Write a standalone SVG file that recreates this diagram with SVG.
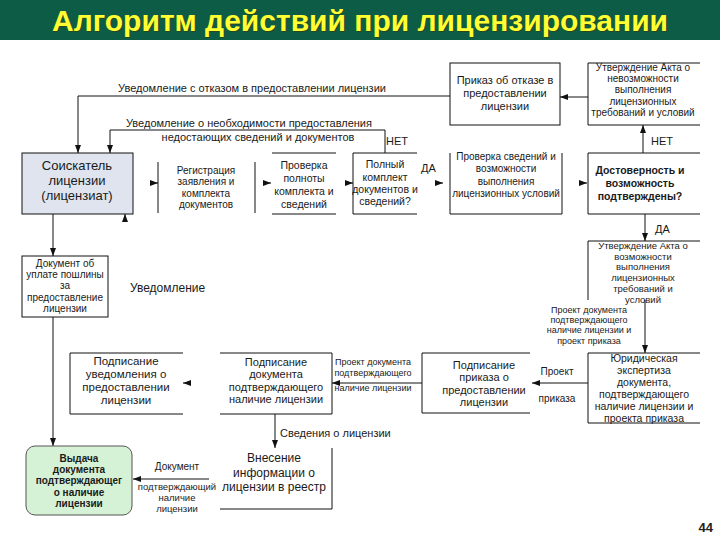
<svg xmlns="http://www.w3.org/2000/svg" width="720" height="540" viewBox="0 0 720 540">
<style>
.t{font-family:"Liberation Sans",Arial,sans-serif;fill:#1a1a1a;text-anchor:middle}
.l{font-family:"Liberation Sans",Arial,sans-serif;fill:#1a1a1a}
.b{fill:none;stroke:#111;stroke-width:1}
.c{fill:none;stroke:#111;stroke-width:1}
.s9{font-size:9px}.s95{font-size:9.5px}.s10{font-size:10px}.s105{font-size:10.5px}.s11{font-size:11px}.s115{font-size:11.5px}.s12{font-size:12px}.s13{font-size:13px}
.bold{font-weight:bold}
</style>
<defs>
<marker id="ah" viewBox="0 0 8 6" refX="8" refY="3" markerWidth="8" markerHeight="6" markerUnits="userSpaceOnUse" orient="auto">
<path d="M0,0 L8,3 L0,6 Z" fill="#111"/>
</marker>
</defs>
<rect x="0" y="0" width="720" height="40" fill="#0d5c46"/>
<text x="361" y="32" font-family="'Liberation Sans',Arial,sans-serif" font-size="30" font-weight="bold" fill="#3a3a00" text-anchor="middle" opacity="0.6">Алгоритм действий при лицензировании</text>
<text x="360" y="31" font-family="'Liberation Sans',Arial,sans-serif" font-size="30" font-weight="bold" fill="#ffff33" text-anchor="middle">Алгоритм действий при лицензировании</text>

<g id="connectors">
<path class="c" d="M450,96 H78 V153" marker-end="url(#ah)"/>
<path class="c" d="M385,153 V130 H110 V153" marker-end="url(#ah)"/>
<path class="c" d="M588,97 H560" marker-end="url(#ah)"/>
<path class="c" d="M643,153 V125" marker-end="url(#ah)"/>
<path class="c" d="M150,183 H158" marker-end="url(#ah)"/>
<path class="c" d="M263,183 H271" marker-end="url(#ah)"/>
<path class="c" d="M345,183 H353" marker-end="url(#ah)"/>
<path class="c" d="M435,183 H443" marker-end="url(#ah)"/>
<path class="c" d="M579,183 H587" marker-end="url(#ah)"/>
<path class="c" d="M53,214 V256" marker-end="url(#ah)"/>
<path class="c" d="M125,222 V214" marker-end="url(#ah)"/>
<path class="c" d="M53,317 V446" marker-end="url(#ah)"/>
<path class="c" d="M645,214 V241" marker-end="url(#ah)"/>
<path class="c" d="M645,300 V353" marker-end="url(#ah)"/>
<path class="c" d="M588,383 H532" marker-end="url(#ah)"/>
<path class="c" d="M422,383 H332" marker-end="url(#ah)"/>
<path class="c" d="M191,383 H183" marker-end="url(#ah)"/>
<path class="c" d="M275,414 V448" marker-end="url(#ah)"/>
<path class="c" d="M209,479 H133" marker-end="url(#ah)"/>
<text class="t s11" x="252" y="92">Уведомление с отказом в предоставлении лицензии</text>
<text class="t s11" x="249" y="127">Уведомление о необходимости предоставления</text>
<text class="t s11" x="258" y="141">недостающих сведений и документов</text>
<text class="l s11" x="386" y="145">НЕТ</text>
<text class="l s11" x="651" y="145">НЕТ</text>
<text class="l s11" x="421" y="172">ДА</text>
<text class="l s11" x="655" y="233">ДА</text>
<text class="l s12" x="130" y="292">Уведомление</text>
<text class="t s9" x="589" y="313">Проект документа</text>
<text class="t s9" x="589" y="323.2">подтверждающего</text>
<text class="t s9" x="589" y="333.4">наличие лицензии и</text>
<text class="t s9" x="589" y="343.6">проект приказа</text>
<text class="t s10" x="557" y="375">Проект</text>
<text class="t s10" x="557" y="402">приказа</text>
<text class="t s9" x="373" y="365">Проект документа</text>
<text class="t s9" x="373" y="376">подтверждающего</text>
<text class="t s9" x="373" y="391">наличие лицензии</text>
<text class="l s11" x="280" y="437">Сведения о лицензии</text>
<text class="t s10" x="177" y="470">Документ</text>
<text class="t s95" x="177" y="490">подтверждающий</text>
<text class="t s95" x="177" y="501">наличие</text>
<text class="t s95" x="177" y="512">лицензии</text>
</g>

<g id="n-prikaz-otkaz">
<rect class="b" x="450" y="63" width="110" height="62"/>
<text class="t s11" x="505" y="84">Приказ об отказе в</text>
<text class="t s11" x="505" y="97">предоставлении</text>
<text class="t s11" x="505" y="110">лицензии</text>
</g>
<g id="n-akt-nevozm">
<path class="b" d="M700,63 H588 V125 H700"/>
<text class="t s10" x="643" y="71">Утверждение Акта о</text>
<text class="t s10" x="643" y="82.2">невозможности</text>
<text class="t s10" x="643" y="93.4">выполнения</text>
<text class="t s10" x="643" y="104.6">лицензионных</text>
<text class="t s10" x="643" y="115.8">требований и условий</text>
</g>
<g id="n-soiskatel">
<rect x="22" y="153" width="111" height="61" fill="#dfe4ee" stroke="#111" stroke-width="1"/>
<text class="t s13" x="77" y="170">Соискатель</text>
<text class="t s13" x="77" y="185">лицензии</text>
<text class="t s13" x="77" y="200">(лицензиат)</text>
</g>
<g id="n-registr">
<path class="b" d="M158,162 V213 M255,162 V213"/>
<text class="t s10" x="206" y="174">Регистрация</text>
<text class="t s10" x="206" y="185.3">заявления и</text>
<text class="t s10" x="206" y="196.6">комплекта</text>
<text class="t s10" x="206" y="207.9">документов</text>
</g>
<g id="n-proverka-poln">
<path class="b" d="M272,153 H336 M272,214 H336"/>
<text class="t s105" x="304" y="169">Проверка</text>
<text class="t s105" x="304" y="182">полноты</text>
<text class="t s105" x="304" y="195">комплекта и</text>
<text class="t s105" x="304" y="208">сведений</text>
</g>
<g id="n-polny">
<path class="b" d="M417,153 H353 V214 H417"/>
<text class="t s105" x="385" y="168">Полный</text>
<text class="t s105" x="385" y="181">комплект</text>
<text class="t s105" x="385" y="193">документов и</text>
<text class="t s105" x="385" y="205">сведений?</text>
</g>
<g id="n-proverka-sved">
<path class="b" d="M450,153 V214 H562 V153"/>
<text class="t s10" x="506" y="160">Проверка сведений и</text>
<text class="t s10" x="506" y="172">возможности</text>
<text class="t s10" x="506" y="185">выполнения</text>
<text class="t s10" x="506" y="197">лицензионных условий</text>
</g>
<g id="n-dostovernost">
<path class="b" d="M700,153 H588 V214 H700"/>
<text class="t s105 bold" x="640" y="174">Достоверность и</text>
<text class="t s105 bold" x="640" y="187">возможность</text>
<text class="t s105 bold" x="640" y="200">подтверждены?</text>
</g>
<g id="n-akt-vozm">
<path class="b" d="M700,241 H588 V300"/>
<text class="t s95" x="643" y="249">Утверждение Акта о</text>
<text class="t s95" x="643" y="259.7">возможности</text>
<text class="t s95" x="643" y="270.4">выполнения</text>
<text class="t s95" x="643" y="281.1">лицензионных</text>
<text class="t s95" x="643" y="291.8">требований и</text>
<text class="t s95" x="643" y="302.5">условий</text>
</g>
<g id="n-ekspertiza">
<path class="b" d="M700,353 H588 V423 H700"/>
<text class="t s105" x="644" y="362">Юридическая</text>
<text class="t s105" x="644" y="374">экспертиза</text>
<text class="t s105" x="644" y="386">документа,</text>
<text class="t s105" x="644" y="398">подтверждающего</text>
<text class="t s105" x="644" y="410">наличие лицензии и</text>
<text class="t s105" x="644" y="422">проекта приказа</text>
</g>
<g id="n-podp-prikaza">
<path class="b" d="M530,353 H422 V413 H530"/>
<text class="t s11" x="484" y="369">Подписание</text>
<text class="t s11" x="484" y="381.3">приказа о</text>
<text class="t s11" x="484" y="393.6">предоставлении</text>
<text class="t s11" x="484" y="405.9">лицензии</text>
</g>
<g id="n-podp-doc">
<path class="b" d="M220,353 H332 V414 H220"/>
<text class="t s11" x="276" y="366">Подписание</text>
<text class="t s11" x="276" y="378.3">документа</text>
<text class="t s11" x="276" y="390.6">подтверждающего</text>
<text class="t s11" x="276" y="402.9">наличие лицензии</text>
</g>
<g id="n-podp-uved">
<path class="b" d="M183,353 H70 V414 H183"/>
<text class="t s115" x="126" y="365">Подписание</text>
<text class="t s115" x="126" y="378">уведомления о</text>
<text class="t s115" x="126" y="391">предоставлении</text>
<text class="t s115" x="126" y="404">лицензии</text>
</g>
<g id="n-poshlina">
<rect class="b" x="22" y="256" width="86" height="61"/>
<text class="t s10" x="65" y="267">Документ об</text>
<text class="t s10" x="65" y="278.2">уплате пошлины</text>
<text class="t s10" x="65" y="289.4">за</text>
<text class="t s10" x="65" y="300.6">предоставление</text>
<text class="t s10" x="65" y="311.8">лицензии</text>
</g>
<g id="n-vydacha">
<rect x="26" y="446" width="106" height="69" rx="9" ry="9" fill="#d6f2d6" stroke="#555" stroke-width="1"/>
<text class="t s10 bold" x="79" y="462">Выдача</text>
<text class="t s10 bold" x="79" y="473.2">документа</text>
<text class="t s10 bold" x="79" y="484.4">подтверждающег</text>
<text class="t s10 bold" x="79" y="495.6">о наличие</text>
<text class="t s10 bold" x="79" y="506.8">лицензии</text>
</g>
<g id="n-reestr">
<path class="b" d="M332,448 V509 H220"/>
<text class="t s12" x="274" y="462">Внесение</text>
<text class="t s12" x="274" y="477">информации о</text>
<text class="t s12" x="274" y="491">лицензии в реестр</text>
</g>
<text x="713" y="532" font-family="'Liberation Sans',Arial,sans-serif" font-size="13" font-weight="bold" fill="#222" text-anchor="end">44</text>
</svg>
